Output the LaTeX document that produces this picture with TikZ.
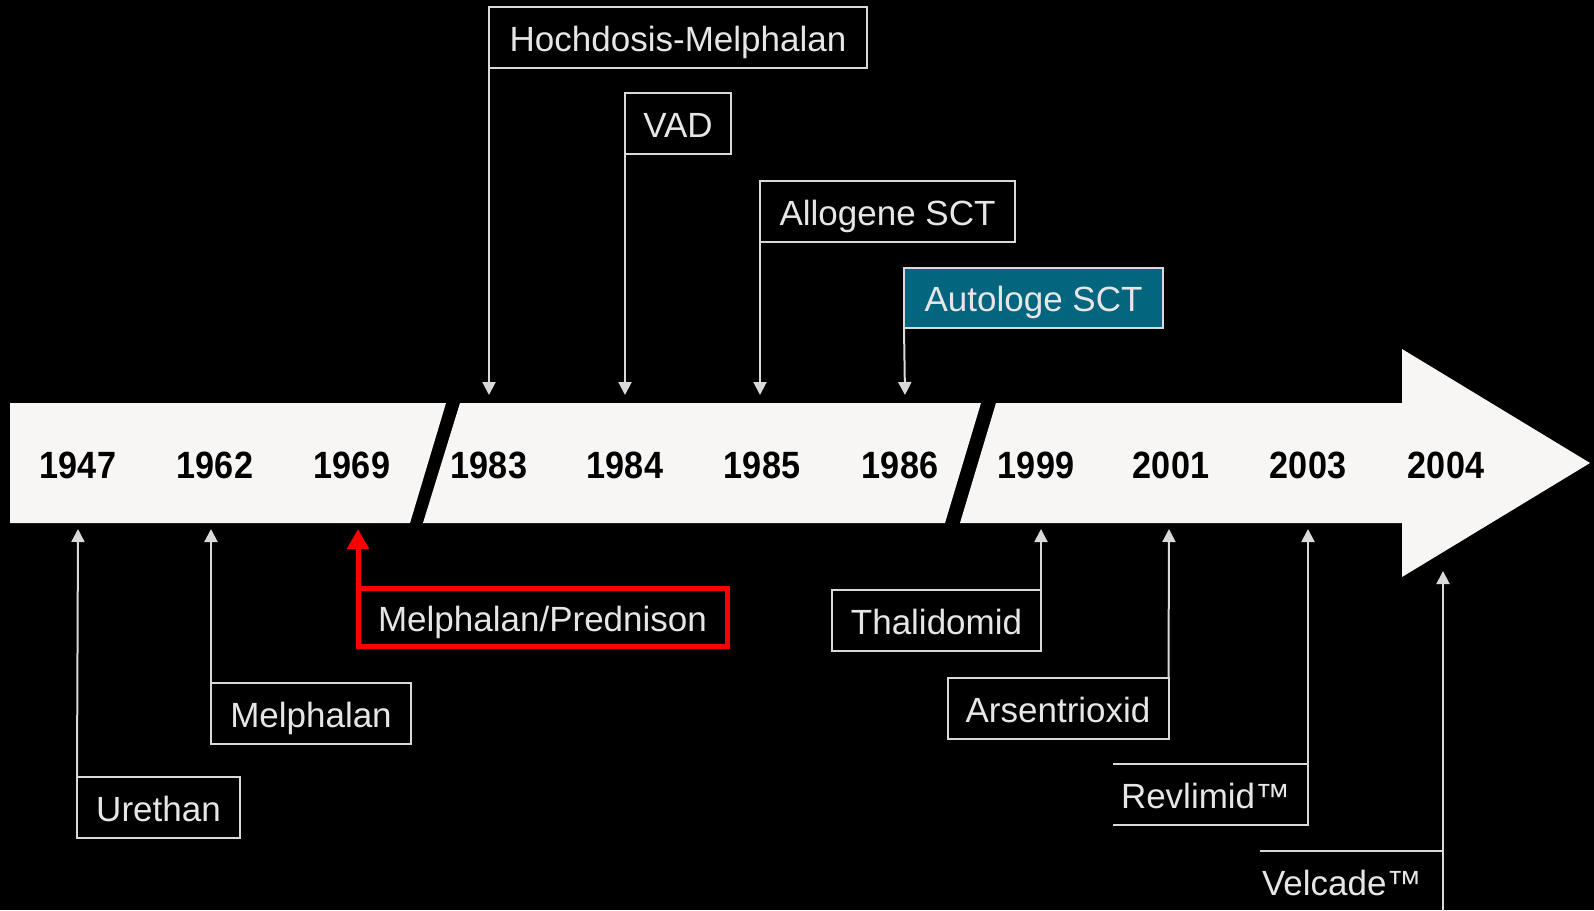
\documentclass[tikz,border=0pt]{standalone}
\usepackage{fontspec}
\setmainfont{Liberation Sans}
\newfontfamily\yearfont{Liberation Sans}[FakeStretch=0.9]
\usetikzlibrary{arrows.meta}
\definecolor{bandfill}{HTML}{F7F6F4}
\definecolor{lblline}{HTML}{D9D9D9}
\definecolor{lbltext}{HTML}{E6E6E6}
\definecolor{autofill}{HTML}{04657F}
\definecolor{hired}{HTML}{FF0000}
\begin{document}
\begin{tikzpicture}[x=1pt,y=-1pt,
  lbl/.style={draw=lblline, line width=2pt, text=lbltext, font=\fontsize{35}{42}\selectfont,
    minimum height=61pt, inner sep=0pt, outer sep=0pt, text height=27pt, text depth=0pt},
  openlbl/.style={text=lbltext, font=\fontsize{35}{42}\selectfont, minimum height=61pt,
    inner ysep=0pt, outer sep=0pt, align=left, text height=27pt, text depth=0pt},
  redlbl/.style={draw=hired, line width=5pt, text=lbltext, font=\fontsize{35}{42}\selectfont,
    minimum height=58pt, inner sep=0pt, outer sep=0pt, text height=27pt, text depth=0pt},
  yr/.style={font=\yearfont\bfseries\fontsize{38}{44}\selectfont, text=black, inner sep=0pt},
  conn/.style={draw=lblline, line width=2pt, -{Triangle[width=13pt,length=13pt]}},
  redconn/.style={draw=hired, line width=5pt, -{Triangle[width=21pt,length=20pt]}},
  band/.style={fill=bandfill}
]
\fill[black] (0,0) rectangle (1594,910);
\useasboundingbox (0,0) rectangle (1594,910);

% timeline band
\path[band] (10,403) -- (446,403) -- (410,523) -- (10,523) -- cycle;
\path[band] (460,403) -- (981,403) -- (945,523) -- (423,523) -- cycle;
\path[band] (996,403) -- (1402,403) -- (1402,349) -- (1590,463) -- (1402,577) -- (1402,523) -- (960,523) -- cycle;

% years
\node[yr] (y1947) at (78,465) {1947};
\node[yr] (y1962) at (215,465) {1962};
\node[yr] (y1969) at (352,465) {1969};
\node[yr] (y1983) at (489,465) {1983};
\node[yr] (y1984) at (625,465) {1984};
\node[yr] (y1985) at (762,465) {1985};
\node[yr] (y1986) at (900,465) {1986};
\node[yr] (y1999) at (1036,465) {1999};
\node[yr] (y2001) at (1171,465) {2001};
\node[yr] (y2003) at (1308,465) {2003};
\node[yr] (y2004) at (1446,465) {2004};

% tip coordinates
\coordinate (t1947) at (78,529);
\coordinate (t1962) at (211,529);
\coordinate (t1969) at (358,529);
\coordinate (t1983) at (489,395);
\coordinate (t1984) at (625,395);
\coordinate (t1985) at (760,395);
\coordinate (t1986) at (905,395);
\coordinate (t1999) at (1041,529);
\coordinate (t2001) at (1169,529);
\coordinate (t2003) at (1308,529);
\coordinate (t2004) at (1443,571);

% upper labels
\node[lbl, minimum width=378pt] (hoch) at (678,37.5) {Hochdosis-Melphalan};
\node[lbl, minimum width=106pt] (vad) at (678,123.5) {VAD};
\node[lbl, minimum width=255pt] (allo) at (887.5,211.5) {Allogene SCT};
\node[lbl, fill=autofill, minimum width=259pt, minimum height=60pt] (auto) at (1033.5,298) {Autologe SCT};

% lower labels
\node[lbl, minimum width=163pt] (ureth) at (158.5,807.5) {Urethan};
\node[lbl, minimum width=200pt] (melph) at (311,713.5) {Melphalan};
\node[redlbl, minimum width=369pt] (mp) at (542.5,617.7) {Melphalan/Prednison};
\node[lbl, minimum width=209pt] (thal) at (936.5,620.5) {Thalidomid};
\node[lbl, minimum width=221pt] (arsen) at (1058,708.5) {Arsentrioxid};
\node[openlbl, text width=179pt, inner xsep=8pt] (rev) at (1210.5,794.5) {Revlimid™};
\node[openlbl, text width=179pt, inner xsep=2pt] (velc) at (1351.5,881.5) {Velcade™};

% open borders
\draw[lblline, line width=2pt] (rev.south west) -- (rev.south east) -- (rev.north east) -- (rev.north west);
\draw[lblline, line width=2pt] (velc.north west) -- (velc.north east) -- (velc.south east);

% connectors
\draw[conn] (hoch.south west) -- (t1983);
\draw[conn] (vad.south west) -- (t1984);
\draw[conn] (allo.south west) -- (t1985);
\draw[conn] (auto.south west) -- (t1986);
\draw[conn] (ureth.north west) -- (t1947);
\draw[conn] (melph.north west) -- (t1962);
\draw[redconn] (mp.north west) -- (t1969);
\draw[conn] (thal.north east) -- (t1999);
\draw[conn] (arsen.north east) -- (t2001);
\draw[conn] (rev.north east) -- (t2003);
\draw[conn] (velc.north east) -- (t2004);
\end{tikzpicture}
\end{document}
